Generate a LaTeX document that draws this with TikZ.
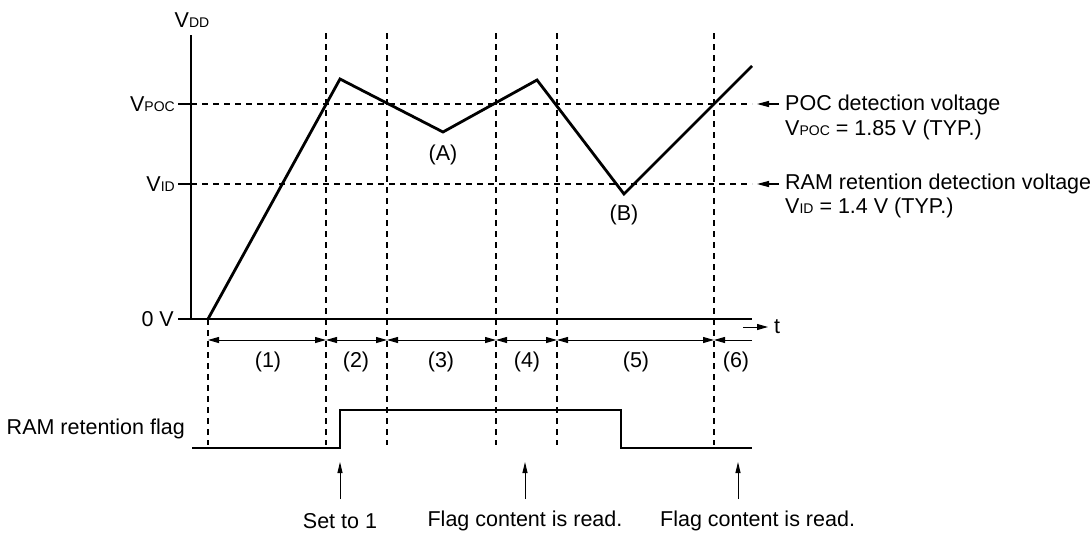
\documentclass[tikz,border=0pt]{standalone}
\usepackage{fontspec}
\setmainfont{Liberation Sans}
\usetikzlibrary{arrows.meta}
\newcommand{\sbs}[1]{{\fontsize{14}{14}\selectfont #1}}
\begin{document}
\begin{tikzpicture}[x=1pt,y=-1pt,
  every node/.style={inner sep=0pt,font=\fontsize{21.5}{25}\selectfont},
  thickline/.style={line width=2.8pt,line join=miter},
  guide/.style={line width=1.2pt,dash pattern=on 6pt off 5pt},
  tick/.style={line width=1.2pt},
  dim/.style={line width=1pt,{Triangle[length=11pt,width=6pt]}-{Triangle[length=11pt,width=6pt]}},
  dimone/.style={line width=1pt,-{Triangle[length=11pt,width=6pt]}},
  uparrow/.style={line width=1pt,-{Triangle[length=11pt,width=5pt]}},
  leftarrow/.style={line width=1.2pt,-{Triangle[length=12pt,width=6pt]}}]
\useasboundingbox (0,0) rectangle (1092,533);
% axes
\coordinate (ytop) at (191,35);
\coordinate (orig) at (191,319);
\coordinate (xend) at (752,319);
\draw[thickline] (ytop) -- (orig) -- (xend);
% level guide lines
\coordinate (poctick) at (178,104);
\coordinate (idtick) at (178,184);
\coordinate (ztick) at (178,319);
\coordinate (pocaxis) at (191,104);
\coordinate (idaxis) at (191,184);
\coordinate (pocend) at (752,104);
\coordinate (idend) at (752,184);
\draw[tick] (poctick) -- (pocaxis);
\draw[tick] (idtick) -- (idaxis);
\draw[tick] (ztick) -- (orig);
\draw[guide] (pocaxis) -- (pocend);
\draw[guide] (idaxis) -- (idend);
% vertical guides
\foreach \n/\x/\yt in {g0/208/319,g1/326/33,g2/387/33,g3/496/33,g4/557/33,g5/714/33}{
  \coordinate (\n t) at (\x,\yt);
  \coordinate (\n b) at (\x,445);
  \draw[guide] (\n t) -- (\n b);
}
% labels on axis
\node[anchor=center] (vdd) at (192,20) {V\sbs{DD}};
\node[anchor=east] (vpoc) at (175,104) {V\sbs{POC}};
\node[anchor=east] (vid) at (175,184) {V\sbs{ID}};
\node[anchor=east] (zero) at (174,319) {0 V};
% waveform
\coordinate (w0) at (208,319);
\coordinate (w1) at (340,79);
\coordinate (wa) at (443,132);
\coordinate (w2) at (537,80);
\coordinate (wb) at (624,194);
\coordinate (w3) at (752,66);
\draw[thickline] (w0) -- (w1) -- (wa) -- (w2) -- (wb) -- (w3);
\node (la) at (443,155) {(A)};
\node (lb) at (624,215) {(B)};
% right labels
\coordinate (pa) at (779,104);
\coordinate (pt) at (757,104);
\draw[leftarrow] (pa) -- (pt);
\coordinate (ia) at (779,184);
\coordinate (it) at (757,184);
\draw[leftarrow] (ia) -- (it);
\node[anchor=west] (poc1) at (785,105) {POC detection voltage};
\node[anchor=west] (poc2) at (785,130) {V\sbs{POC} = 1.85 V (TYP.)};
\node[anchor=west] (id1) at (785,184) {RAM retention detection voltage};
\node[anchor=west] (id2) at (785,208) {V\sbs{ID} = 1.4 V (TYP.)};
% time arrow
\coordinate (ts) at (743,327);
\coordinate (te) at (768,327);
\draw[dimone] (ts) -- (te);
\node (tl) at (777,327) {t};
% dimension arrows
\foreach \a/\b in {208/326,326/387,387/496,496/557,557/714}{
  \coordinate (da\a) at (\a,340);
  \coordinate (db\a) at (\b,340);
  \draw[dim] (da\a) -- (db\a);
}
\coordinate (d6e) at (752,340);
\coordinate (d6s) at (714,340);
\draw[dimone] (d6e) -- (d6s);
\node (p1) at (268,362) {(1)};
\node (p2) at (356,362) {(2)};
\node (p3) at (441,362) {(3)};
\node (p4) at (527,362) {(4)};
\node (p5) at (636,362) {(5)};
\node (p6) at (736,362) {(6)};
% flag
\node[anchor=east] (flag) at (185,429) {RAM retention flag};
\coordinate (f0) at (192,448);
\coordinate (f1) at (340,448);
\coordinate (f2) at (340,410);
\coordinate (f3) at (621,410);
\coordinate (f4) at (621,448);
\coordinate (f5) at (752,448);
\draw[thickline] (f0) -- (f1) -- (f2) -- (f3) -- (f4) -- (f5);
% bottom arrows and texts
\node (s1) at (340,521) {Set to 1};
\node (s2) at (525,521) {Flag content is read.};
\node[anchor=west] (s3) at (660,521) {Flag content is read.};
\coordinate (a1) at (340,499);
\coordinate (a1t) at (340,462);
\coordinate (a2) at (525,499);
\coordinate (a2t) at (525,462);
\coordinate (a3) at (738,499);
\coordinate (a3t) at (738,462);
\draw[uparrow] (a1) -- (a1t);
\draw[uparrow] (a2) -- (a2t);
\draw[uparrow] (a3) -- (a3t);
\end{tikzpicture}
\end{document}
